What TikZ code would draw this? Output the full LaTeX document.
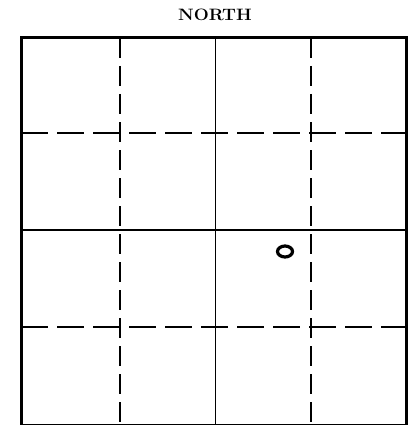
\documentclass[tikz,border=0pt]{standalone}
\begin{document}
\begin{tikzpicture}[x=1pt,y=-1pt,
  frame/.style={line width=3pt},
  solidline/.style={line width=1.8pt},
  hdash/.style={line width=1.8pt,dash pattern=on 27pt off 9pt},
  vdash/.style={line width=1.8pt,dash pattern=on 20pt off 8pt},
  marker/.style={line width=3.2pt},
  label/.style={font=\fontsize{16.5}{16.5}\selectfont\bfseries,inner sep=0pt}]
\useasboundingbox (0,0) rectangle (409,425);
% corners
\coordinate (nw) at (21,38);
\coordinate (se) at (406,425);
% grid lines
\coordinate (v1t) at (120,38);  \coordinate (v1b) at (120,425);
\coordinate (v2t) at (215.5,38);  \coordinate (v2b) at (215.5,425);
\coordinate (v3t) at (311,38);  \coordinate (v3b) at (311,425);
\coordinate (h1l) at (21,133);  \coordinate (h1r) at (406,133);
\coordinate (h2l) at (21,230);  \coordinate (h2r) at (406,230);
\coordinate (h3l) at (21,327);  \coordinate (h3r) at (406,327);
\draw[vdash] (v1t) -- (v1b);
\draw[solidline] (v2t) -- (v2b);
\draw[vdash] (v3t) -- (v3b);
\draw[hdash] (h1l) -- (h1r);
\draw[solidline] (h2l) -- (h2r);
\draw[hdash] (h3l) -- (h3r);
\draw[frame] (nw) rectangle (se);
% title
\node[label,xscale=1.08] (north) at (215,15) {NORTH};
% marker
\draw[marker] (285,251.5) ellipse (7.5pt and 5.5pt);
\end{tikzpicture}
\end{document}
